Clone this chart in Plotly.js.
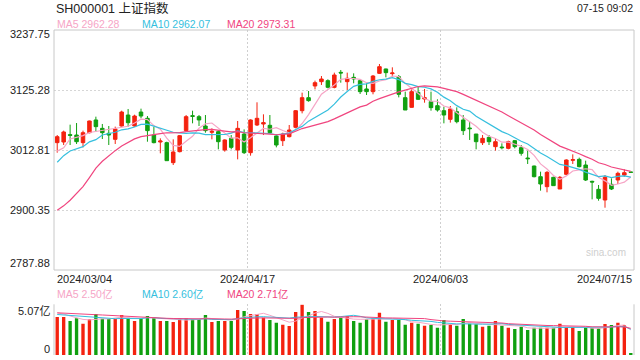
<!DOCTYPE html>
<html><head><meta charset="utf-8">
<script src="https://cdn.plot.ly/plotly-3.0.1.min.js"></script>
<style>html,body{margin:0;padding:0;background:#fff;}#chart{width:640px;height:360px;}</style>
</head><body><div id="chart"></div>
<script>
const titleText = 'SH000001 上证指数';
const timeText = '07-15 09:02';
const dateLabels = ['2024/03/04', '2024/04/17', '2024/06/03', '2024/07/15'];
const dateLabelIdx = [0, 30, 60, 89];
const yTicks = [3237.75, 3125.28, 3012.81, 2900.35, 2787.88];
const yTickLabels = ['3237.75', '3125.28', '3012.81', '2900.35', '2787.88'];
const volMax = 5.07;
const volTickLabels = ['5.07亿', '0'];
const maNames = ['MA5', 'MA10', 'MA20'];
const maValues = ['2962.28', '2962.07', '2973.31'];
const volMaValues = ['2.50亿', '2.60亿', '2.71亿'];

const opens = [3026.6,3027.8,3041.6,3040.9,3026.6,3045.3,3069.1,3053.4,3044.1,3032.8,
3057.8,3078.4,3057.8,3084.0,3072.2,3040.9,3027.8,3026.6,2989.1,3009.7,
3049.1,3077.2,3075.3,3057.8,3045.9,3047.2,3012.8,3034.7,3012.8,3042.8,
3007.8,3059.7,3061.5,3059.1,3039.1,3030.3,3037.8,3055.3,3086.5,3110.9,
3132.8,3140.9,3142.8,3130.3,3158.4,3140.9,3149.0,3142.8,3127.2,3122.2,
3156.5,3164.7,3155.9,3150.3,3110.9,3092.8,3120.9,3108.4,3103.4,3095.9,
3086.5,3070.3,3084.7,3069.1,3054.0,3042.8,3026.5,3036.5,3019.1,3018.4,
3015.9,3030.3,3017.2,2997.8,2982.8,2962.8,2944.1,2961.6,2939.7,2967.2,
2993.5,2995.3,2984.7,2954.1,2939.1,2919.1,2948.5,2956.6,2965.9,2971.6];
const highs = [3040.9,3049.1,3060.3,3063.4,3049.1,3067.8,3075.3,3061.6,3057.8,3056.6,
3086.5,3089.7,3079.0,3090.3,3076.5,3056.6,3034.7,3028.4,3032.8,3040.9,
3078.4,3086.5,3078.4,3078.4,3053.4,3050.3,3032.8,3040.9,3067.2,3051.5,
3070.3,3102.2,3079.7,3078.4,3042.8,3045.3,3059.7,3087.8,3120.3,3123.4,
3142.8,3151.5,3145.3,3157.8,3162.8,3157.8,3156.5,3145.3,3137.8,3153.4,
3174.0,3165.3,3167.8,3153.4,3122.2,3126.5,3131.5,3127.2,3122.2,3107.8,
3094.0,3095.3,3092.8,3078.4,3065.9,3042.8,3040.9,3040.9,3034.7,3025.3,
3030.3,3031.6,3022.2,3011.5,2983.5,2972.2,2973.4,2962.8,2964.1,2995.3,
3004.7,2998.5,2992.8,2955.3,2947.2,2965.9,2959.7,2972.2,2976.6,2971.8];
const lows = [3007.8,3022.2,3022.2,3024.1,3017.8,3044.1,3047.2,3033.4,3022.2,3024.1,
3056.6,3056.6,3056.6,3072.2,3028.4,3025.3,3006.6,2992.8,2984.7,3008.4,
3047.2,3062.8,3057.8,3045.3,3032.8,3014.1,3009.7,3014.1,2995.3,3005.3,
3002.2,3057.8,3040.9,3042.8,3017.8,3020.3,3036.5,3053.4,3081.5,3103.4,
3126.5,3134.7,3128.4,3128.4,3139.0,3125.3,3137.8,3117.8,3115.9,3117.2,
3155.3,3149.0,3150.3,3111.5,3087.8,3092.2,3106.5,3101.5,3086.5,3084.7,
3062.8,3064.1,3062.8,3040.9,3031.6,3014.1,3022.2,3022.2,3011.6,3014.1,
3014.1,3015.9,3002.2,2986.6,2961.6,2936.6,2933.5,2946.0,2939.7,2965.9,
2986.6,2980.3,2954.7,2920.3,2917.8,2904.7,2937.8,2949.1,2962.8,2970.8];
const closes = [3037.8,3046.6,3040.3,3028.4,3045.3,3067.2,3056.6,3045.3,3040.9,3052.2,
3084.0,3064.0,3076.5,3076.5,3049.1,3026.6,3029.7,2992.8,3009.1,3039.7,
3075.3,3075.9,3069.1,3049.1,3047.8,3028.4,3031.6,3017.8,3053.4,3007.8,
3069.1,3072.2,3064.1,3045.3,3022.2,3042.8,3050.3,3086.5,3110.9,3105.3,
3139.0,3145.9,3130.3,3153.4,3157.2,3147.2,3146.0,3122.2,3122.2,3151.5,
3169.0,3157.8,3157.2,3117.2,3087.8,3122.2,3107.8,3110.9,3092.2,3087.8,
3078.4,3089.7,3065.9,3049.1,3052.8,3028.4,3034.7,3028.4,3028.4,3017.2,
3028.4,3019.1,3006.6,2996.5,2962.8,2949.1,2970.9,2946.0,2961.6,2994.1,
2994.7,2981.6,2956.6,2952.8,2922.2,2961.6,2939.7,2969.1,2970.3,2971.0];
const ma5 = [3010.7,3016.9,3033.4,3036.0,3039.7,3045.6,3047.6,3048.6,3051.1,3052.4,
3055.8,3057.3,3063.5,3070.6,3070.0,3058.5,3051.7,3034.9,3021.5,3019.6,
3029.3,3038.6,3053.8,3061.8,3063.4,3054.1,3045.2,3034.9,3035.8,3027.8,
3035.9,3044.1,3053.3,3051.7,3054.6,3049.3,3044.9,3049.4,3062.5,3079.2,
3098.4,3117.5,3126.3,3134.8,3145.2,3146.8,3146.8,3145.2,3139.0,3137.8,
3142.2,3144.5,3151.5,3150.5,3137.8,3128.4,3118.4,3109.2,3104.2,3104.2,
3095.4,3091.8,3082.8,3074.2,3067.2,3057.2,3046.2,3038.7,3034.5,3027.4,
3027.4,3024.3,3019.9,3013.6,3002.7,2986.8,2977.2,2965.1,2958.1,2964.3,
2973.5,2975.6,2977.7,2976.0,2961.6,2955.0,2946.6,2949.1,2952.6,2962.3];
const ma10 = [2989.8,3002.2,3011.1,3015.1,3019.1,3028.1,3032.2,3041.0,3043.5,3046.1,
3050.7,3052.4,3056.0,3060.9,3061.2,3057.2,3054.5,3049.2,3046.1,3044.8,
3043.9,3045.1,3044.4,3041.6,3041.5,3041.7,3041.9,3044.4,3048.8,3045.6,
3045.0,3044.6,3044.1,3043.8,3041.2,3042.6,3044.5,3051.4,3057.1,3066.9,
3073.9,3081.2,3087.9,3098.7,3112.2,3122.6,3132.2,3135.7,3136.9,3141.5,
3144.5,3145.7,3148.4,3144.8,3137.8,3135.3,3131.5,3130.4,3127.4,3121.0,
3111.9,3105.1,3096.0,3089.2,3085.7,3076.3,3069.0,3060.7,3054.4,3047.3,
3042.3,3035.2,3029.3,3024.1,3015.1,3007.1,3000.7,2992.5,2985.8,2983.5,
2980.1,2976.4,2971.4,2967.0,2963.0,2964.2,2961.1,2963.4,2964.3,2962.0];
const ma20 = [2900.0,2908.1,2918.6,2930.6,2944.3,2961.2,2978.9,2991.7,3002.3,3011.6,
3020.3,3027.3,3033.6,3038.0,3040.2,3042.6,3043.4,3045.1,3044.8,3045.4,
3047.3,3048.8,3050.2,3051.2,3051.4,3049.4,3048.2,3046.8,3047.4,3045.2,
3044.5,3044.9,3044.3,3042.7,3041.4,3042.2,3043.2,3047.9,3053.0,3056.2,
3059.4,3062.9,3066.0,3071.2,3076.7,3082.6,3088.3,3093.6,3097.0,3104.2,
3109.2,3113.5,3118.1,3121.7,3125.0,3129.0,3131.8,3133.1,3132.1,3131.2,
3128.2,3125.4,3122.2,3117.0,3111.7,3105.8,3100.2,3095.6,3090.9,3084.1,
3077.1,3070.2,3062.7,3056.6,3050.4,3041.7,3034.9,3026.6,3020.1,3015.4,
3011.2,3005.8,3000.4,2995.5,2989.0,2985.7,2980.9,2978.0,2975.0,2972.7];
const volumes = [3.80,3.80,3.40,3.67,3.13,3.57,4.10,3.63,3.60,3.60,
4.00,3.73,3.40,3.67,3.90,3.73,3.40,3.40,3.30,3.67,
3.67,3.57,3.60,4.00,3.30,3.40,3.40,3.40,4.50,4.40,
4.10,4.10,3.73,3.50,3.23,3.03,2.90,4.30,5.03,4.30,
4.40,3.73,3.33,3.60,3.73,3.90,3.40,3.23,3.57,3.67,
4.23,3.33,3.50,3.50,3.03,3.23,3.13,2.93,3.00,2.73,
3.50,3.07,2.93,3.60,3.13,3.07,2.83,2.93,3.40,2.93,
2.73,2.60,2.83,2.50,2.73,2.73,2.73,2.73,3.13,2.77,
2.77,2.40,2.77,2.70,2.67,3.10,3.00,3.23,3.00,0.20];
const vma5 = [4.2,4.1,3.9,3.7,3.56,3.51,3.57,3.62,3.61,3.70,
3.79,3.71,3.67,3.68,3.74,3.69,3.62,3.62,3.55,3.50,
3.49,3.52,3.56,3.70,3.63,3.57,3.54,3.50,3.60,3.82,
3.96,4.10,4.17,3.97,3.73,3.52,3.28,3.39,3.70,3.91,
4.19,4.35,4.16,3.87,3.76,3.66,3.59,3.57,3.57,3.55,
3.62,3.61,3.66,3.65,3.52,3.32,3.28,3.16,3.06,3.00,
3.06,3.05,3.05,3.17,3.25,3.16,3.11,3.11,3.07,3.03,
2.96,2.92,2.90,2.72,2.68,2.68,2.70,2.68,2.81,2.82,
2.83,2.76,2.77,2.68,2.66,2.73,2.85,2.94,3.00,2.51];
const vma10 = [4.05,4.0,3.95,3.9,3.85,3.8,3.75,3.7,3.66,3.63,
3.65,3.64,3.64,3.64,3.72,3.74,3.67,3.64,3.61,3.62,
3.59,3.57,3.59,3.62,3.56,3.53,3.53,3.53,3.65,3.72,
3.77,3.82,3.83,3.78,3.78,3.74,3.69,3.78,3.83,3.82,
3.85,3.82,3.78,3.79,3.84,3.92,3.97,3.87,3.72,3.66,
3.64,3.60,3.62,3.61,3.54,3.47,3.44,3.41,3.36,3.26,
3.19,3.16,3.11,3.12,3.13,3.11,3.08,3.08,3.12,3.14,
3.06,3.02,3.01,2.90,2.86,2.82,2.81,2.79,2.76,2.75,
2.75,2.73,2.73,2.75,2.74,2.78,2.80,2.85,2.84,2.58];
const vma20 = [4.22,4.2,4.17,4.14,4.1,4.07,4.03,4.0,3.96,3.93,
3.89,3.86,3.82,3.79,3.76,3.73,3.7,3.67,3.65,3.63,
3.62,3.61,3.62,3.63,3.64,3.63,3.60,3.59,3.63,3.67,
3.68,3.70,3.71,3.70,3.67,3.64,3.61,3.66,3.74,3.77,
3.81,3.82,3.80,3.78,3.81,3.83,3.83,3.82,3.78,3.74,
3.75,3.71,3.70,3.70,3.69,3.70,3.71,3.64,3.54,3.46,
3.41,3.38,3.36,3.36,3.33,3.29,3.26,3.25,3.24,3.20,
3.13,3.09,3.06,3.01,2.99,2.97,2.95,2.94,2.94,2.94,
2.91,2.87,2.87,2.82,2.80,2.80,2.81,2.82,2.80,2.67];

const RED = '#f4220f', GREEN = '#10a010';
const MA_COLORS = ['#f6a5c6', '#36bfde', '#f0457f'];
const FONT = 'Liberation Sans, Arial, Noto Sans CJK SC, sans-serif';
const TXT = '#222';

const idx = closes.map((_, i) => i);
const volColors = closes.map((c, i) => c >= opens[i] ? RED : GREEN);
const gridIdx = dateLabelIdx.slice(1, 3).map(i => i - 0.5);

const traces = [
  {type: 'candlestick', x: idx, open: opens, high: highs, low: lows, close: closes,
   xaxis: 'x', yaxis: 'y', whiskerwidth: 0, hoverinfo: 'skip',
   increasing: {line: {color: RED, width: 1}, fillcolor: RED},
   decreasing: {line: {color: GREEN, width: 1}, fillcolor: GREEN}},
  {type: 'scatter', mode: 'lines', x: idx, y: ma5, yaxis: 'y', line: {color: MA_COLORS[0], width: 1.2}, hoverinfo: 'skip'},
  {type: 'scatter', mode: 'lines', x: idx, y: ma10, yaxis: 'y', line: {color: MA_COLORS[1], width: 1.2}, hoverinfo: 'skip'},
  {type: 'scatter', mode: 'lines', x: idx, y: ma20, yaxis: 'y', line: {color: MA_COLORS[2], width: 1.2}, hoverinfo: 'skip'},
  {type: 'bar', x: idx, y: volumes, yaxis: 'y2', width: 0.52, marker: {color: volColors, line: {width: 0}}, hoverinfo: 'skip'},
  {type: 'scatter', mode: 'lines', x: idx, y: vma5, yaxis: 'y2', line: {color: MA_COLORS[0], width: 1}, hoverinfo: 'skip'},
  {type: 'scatter', mode: 'lines', x: idx, y: vma10, yaxis: 'y2', line: {color: MA_COLORS[1], width: 1}, hoverinfo: 'skip'},
  {type: 'scatter', mode: 'lines', x: idx, y: vma20, yaxis: 'y2', line: {color: MA_COLORS[2], width: 1}, hoverinfo: 'skip'}
];

const annotations = [];
// header
annotations.push({text: titleText, xref: 'paper', yref: 'paper', x: 0, y: 1, xanchor: 'left', yanchor: 'middle', xshift: 0, yshift: 22, showarrow: false, font: {family: FONT, size: 12.5, color: TXT}});
annotations.push({text: timeText, xref: 'paper', yref: 'paper', x: 1, y: 1, xanchor: 'right', yanchor: 'middle', xshift: 1, yshift: 22, showarrow: false, font: {family: FONT, size: 10.5, color: TXT}});
const legendShift = [1, 86, 171];
maNames.forEach((n, k) => {
  annotations.push({text: n + ' ' + maValues[k], xref: 'paper', yref: 'paper', x: 0, y: 1, xanchor: 'left', yanchor: 'middle', xshift: legendShift[k], yshift: 6, showarrow: false, font: {family: FONT, size: 10.5, color: MA_COLORS[k]}});
  annotations.push({text: n + ' ' + volMaValues[k], xref: 'paper', yref: 'y2 domain', x: 0, y: 1, xanchor: 'left', yanchor: 'middle', xshift: legendShift[k], yshift: 10, showarrow: false, font: {family: FONT, size: 10.5, color: MA_COLORS[k]}});
});
// y labels
const yShifts = [-4, 0, 0, 0, 7];
yTicks.forEach((v, k) => {
  annotations.push({text: yTickLabels[k], xref: 'paper', yref: 'y', x: 0, y: v, xanchor: 'right', yanchor: 'middle', xshift: -2, yshift: yShifts[k], showarrow: false, font: {family: FONT, size: 11, color: TXT}});
});
annotations.push({text: volTickLabels[0], xref: 'paper', yref: 'y2', x: 0, y: volMax, xanchor: 'right', yanchor: 'middle', xshift: -2, yshift: -7, showarrow: false, font: {family: FONT, size: 11, color: TXT}});
annotations.push({text: volTickLabels[1], xref: 'paper', yref: 'y2', x: 0, y: 0, xanchor: 'right', yanchor: 'middle', xshift: -2, yshift: 6, showarrow: false, font: {family: FONT, size: 11, color: TXT}});
// x labels
dateLabels.forEach((d, k) => {
  const first = k === 0, last = k === dateLabels.length - 1;
  annotations.push({text: d, xref: first ? 'x domain' : (last ? 'x domain' : 'x'), yref: 'y domain',
    x: first ? 0 : (last ? 1 : dateLabelIdx[k] - 0.5), y: 0,
    xanchor: first ? 'left' : (last ? 'right' : 'center'), yanchor: 'top', xshift: first ? 1 : 0, yshift: -1,
    showarrow: false, font: {family: FONT, size: 11, color: TXT}});
});
annotations.push({text: 'sina.com', xref: 'x domain', yref: 'y domain', x: 1, y: 0, xanchor: 'right', yanchor: 'bottom', xshift: -6, yshift: 10, showarrow: false, font: {family: FONT, size: 10, color: '#cfcfcf'}});

const layout = {
  width: 640, height: 360,
  margin: {l: 54, r: 6, t: 30, b: 5, pad: 0},
  paper_bgcolor: '#fff', plot_bgcolor: '#fff',
  showlegend: false, dragmode: false, hovermode: false,
  boxgap: 0.22,
  xaxis: {range: [-0.5, closes.length - 0.5], showticklabels: false, ticks: '', tickmode: 'array', tickvals: gridIdx,
          showgrid: true, gridcolor: '#cfcfcf', griddash: '2px,2px', gridwidth: 1, zeroline: false, showline: false,
          rangeslider: {visible: false}, fixedrange: true},
  yaxis: {domain: [0.2615, 1], range: [yTicks[4], yTicks[0]], tickmode: 'array', tickvals: yTicks, showticklabels: false, ticks: '',
          showgrid: true, gridcolor: '#d6d6d6', griddash: '2px,2px', zeroline: false, showline: false, fixedrange: true},
  yaxis2: {domain: [0, 0.156], range: [0, volMax], tickmode: 'array', tickvals: [0, volMax], showticklabels: false, ticks: '',
          showgrid: true, gridcolor: '#cfcfcf', griddash: '2px,2px', zeroline: false, showline: false, fixedrange: true, anchor: 'x'},
  shapes: [
    {type: 'rect', xref: 'x domain', yref: 'y domain', x0: 0, x1: 1, y0: 0, y1: 1, line: {color: '#c8c8c8', width: 1}, layer: 'above'},
    {type: 'line', xref: 'x domain', yref: 'y2 domain', x0: 0, x1: 0, y0: 0, y1: 1, line: {color: '#c8c8c8', width: 1}},
    {type: 'line', xref: 'x domain', yref: 'y2 domain', x0: 1, x1: 1, y0: 0, y1: 1, line: {color: '#c8c8c8', width: 1}}
  ],
  annotations: annotations
};

Plotly.newPlot('chart', traces, layout, {staticPlot: true, displayModeBar: false});
</script></body></html>
